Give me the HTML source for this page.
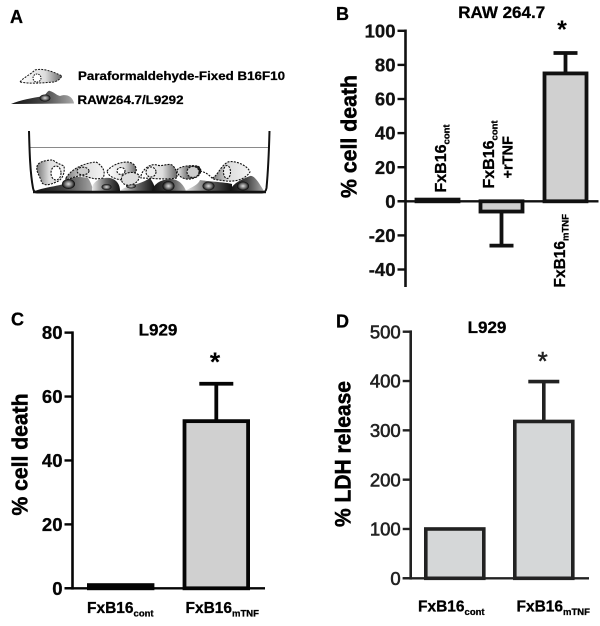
<!DOCTYPE html>
<html lang="en">
<head>
<meta charset="utf-8">
<title>Cell death panels</title>
<style>
html,body{margin:0;padding:0;background:#fff;}
svg{display:block;font-family:"Liberation Sans",Arial,sans-serif;}
</style>
</head>
<body>
<svg id="figure" xmlns="http://www.w3.org/2000/svg" width="600" height="626" viewBox="0 0 600 626">
  <defs>
    <linearGradient id="lightCell" x1="0" x2="1" y1="0" y2="0"><stop offset="0" stop-color="#777"/><stop offset=".45" stop-color="#ddd"/><stop offset="1" stop-color="#f4f4f4"/></linearGradient>
    <linearGradient id="lightCellB" x1="0" x2="1" y1="0" y2="0"><stop offset="0" stop-color="#fff"/><stop offset=".6" stop-color="#ddd"/><stop offset="1" stop-color="#666"/></linearGradient>
    <linearGradient id="darkCell" x1="0" x2="1" y1="0" y2="0"><stop offset="0" stop-color="#eee"/><stop offset=".5" stop-color="#666"/><stop offset="1" stop-color="#111"/></linearGradient>
    <linearGradient id="darkCellB" x1="0" x2="1" y1="0" y2="0"><stop offset="0" stop-color="#111"/><stop offset=".5" stop-color="#444"/><stop offset="1" stop-color="#aaa"/></linearGradient>
    <radialGradient id="nucleus"><stop offset="0" stop-color="#ddd"/><stop offset=".6" stop-color="#666"/><stop offset="1" stop-color="#000"/></radialGradient>
  </defs>

  <g>
    <text x="10" y="23" font-size="18" font-weight="700" stroke="#000" stroke-width=".3">A</text>
    <g>
      <path d="M20,82 C24,77 30,75 35,70 C42,68 52,71 62,76 C60,79 58,81 54,82 C42,83 30,84 20,82 Z" fill="url(#lightCellB)" stroke="#111" stroke-width="1" stroke-dasharray="2 1.2"/>
      <ellipse cx="37" cy="78" rx="4" ry="4" fill="#fff" stroke="#111" stroke-width="1" stroke-dasharray="1.5 1"/>
    </g>
    <text x="78" y="80" font-size="11.5" font-weight="700" textLength="207" lengthAdjust="spacingAndGlyphs" stroke="#000" stroke-width=".25">Paraformaldehyde-Fixed B16F10</text>
    <g>
      <path d="M11,104 C20,100 32,98 44,96 C47,93 48,90 50,91 C54,92 56,95 60,96 C65,94 72,95 74,103 L74,103.500 Z" fill="url(#darkCellB)"/>
      <ellipse cx="45" cy="98" rx="5.500" ry="3.500" fill="url(#nucleus)"/>
    </g>
    <text x="77.500" y="104" font-size="11.500" font-weight="700" textLength="106" lengthAdjust="spacingAndGlyphs" stroke="#000" stroke-width=".25">RAW264.7/L9292</text>

    <g>
      <line x1="30" y1="147.500" x2="268" y2="147.500" stroke="#8a8a8a" stroke-width="1"/>
      <g>
        <path d="M35,191 C45,187 60,186 66,183 C70,176 78,176 88,178 C92,184 92,188 94,191 Z" fill="url(#darkCellB)"/>
        <path d="M92,191 C91,182 100,177 110,178 C118,180 120,186 120,191 Z" fill="url(#darkCell)"/>
        <path d="M120,191 C124,186 140,185 150,178 C154,184 156,188 154,191 Z" fill="url(#darkCell)"/>
        <path d="M152,191 C154,183 162,179 172,179 C180,180 184,186 186,191 Z" fill="url(#darkCellB)"/>
        <path d="M185,191 C192,187 198,185 200,180 C212,182 225,182 232,184 L232,191 Z" fill="url(#darkCell)"/>
        <path d="M230,191 C232,184 240,180 250,176 C255,175 260,185 264,191 Z" fill="url(#darkCellB)"/>
        <ellipse cx="68.500" cy="184" rx="6.500" ry="5" fill="url(#nucleus)"/>
        <ellipse cx="106.500" cy="187" rx="5" ry="3" fill="url(#nucleus)"/>
        <ellipse cx="131" cy="186" rx="5" ry="2.500" fill="url(#nucleus)"/>
        <ellipse cx="168.500" cy="186" rx="6" ry="5" fill="url(#nucleus)"/>
        <ellipse cx="208.500" cy="186" rx="6" ry="4.500" fill="url(#nucleus)"/>
        <ellipse cx="243" cy="186" rx="6" ry="4.500" fill="url(#nucleus)"/>
      </g>
      <g stroke="#111" stroke-width="1.100" stroke-dasharray="2 1.200">
        <path d="M37,167 C37,162 46,160 53,160 C56,163 60,164 64,166 C65,172 63,180 56,182 C50,185 42,187 41,180 C39,175 36,171 37,167 Z" fill="url(#lightCell)"/>
        <ellipse cx="56" cy="173" rx="5" ry="7" fill="#fff"/>
        <path d="M66,178 C72,168 85,163 96,162 C103,166 106,172 103,178 C95,180 92,178 84,176 C78,175 72,178 66,180 Z" fill="url(#lightCell)"/>
        <ellipse cx="83" cy="171" rx="6" ry="3.800" fill="#ccc"/>
        <path d="M107,171 C112,165 120,162 128,162 C135,163 137,168 136,172 C131,176 128,178 122,180 C114,179 108,176 107,171 Z" fill="url(#lightCellB)"/>
        <ellipse cx="121" cy="171" rx="4" ry="3.500" fill="#fff"/>
        <path d="M122,176 C127,172 134,171 139,175 C140,180 136,184 130,185 C124,186 120,182 122,176 Z" fill="#ddd"/>
        <path d="M141,176 C142,170 150,163 157,165 C162,167 168,163 172,165 C177,169 177,174 177,178 C165,180 150,178 141,178 Z" fill="url(#lightCellB)"/>
        <ellipse cx="151" cy="172" rx="5" ry="5" fill="#eee"/>
        <path d="M177,170 C180,166 190,165 198,166 C204,170 200,178 190,179 C184,180 177,176 177,170 Z" fill="url(#darkCell)"/>
        <ellipse cx="193" cy="172" rx="6" ry="5.500" fill="#ccc"/>
        <path d="M200,171 C205,172 208,174 212,178" fill="none"/>
        <path d="M212,178 C218,176 220,166 228,162 C236,160 248,166 250,172 C246,178 238,182 226,181 C220,180 214,180 212,178 Z" fill="url(#lightCell)"/>
        <ellipse cx="227" cy="172" rx="3.500" ry="6.500" fill="#eee"/>
      </g>
      <path d="M29,131 C29.500,150 30,172 33,188 C33.500,191 35,192.500 37,192.500 L262,192.500 C265,192.500 266,191 266.500,188 C268,172 269,150 269.500,131" fill="none" stroke="#111" stroke-width="2"/>
      <line x1="33" y1="192" x2="266" y2="192" stroke="#111" stroke-width="2.600"/>
    </g>
  </g>

  <g id="panel-b"></g>
  <g id="panel-c"></g>
  <g id="panel-d"></g>
</svg>

<script>
// Panel B data
const bCategories = ['FxB16|cont', 'FxB16|cont', 'FxB16|mTNF'];
const bValues = [1, -6, 75];
const bErrorEnds = [1, -26, 87];
const bTicks = [100, 80, 60, 40, 20, 0, -20, -40];
// Panel C data
const cCategories = ['FxB16|cont', 'FxB16|mTNF'];
const cValues = [1, 52.3];
const cErrorEnds = [1, 64];
const cTicks = [80, 60, 40, 20, 0];
// Panel D data
const dCategories = ['FxB16|cont', 'FxB16|mTNF'];
const dValues = [100, 318];
const dErrorEnds = [100, 399];
const dTicks = [500, 400, 300, 200, 100, 0];

const NS = 'http://www.w3.org/2000/svg';

function shape(parent, tag, name, attrs, content) {
  const el = document.createElementNS(NS, tag);
  
  
  Object.keys(attrs).forEach(function (k) { el.setAttribute(k, attrs[k]); });
  if (content !== undefined) el.textContent = content;
  parent.appendChild(el);
  return el;
}

function categoryLabel(parent, name, category, attrs, mainSize, subSize, subDrop) {
  const parts = category.split('|');
  const t = shape(parent, 'text', name, attrs);
  t.setAttribute('stroke', '#000');
  t.setAttribute('stroke-width', '0.3');
  const main = document.createElementNS(NS, 'tspan');
  main.setAttribute('font-size', mainSize);
  main.textContent = parts[0];
  const sub = document.createElementNS(NS, 'tspan');
  sub.setAttribute('font-size', subSize);
  sub.setAttribute('dy', subDrop);
  sub.textContent = parts[1];
  t.appendChild(main);
  t.appendChild(sub);
  return t;
}

function drawChart(o) {
  const g = document.getElementById(o.id);
  const axisTop = o.y(o.ticks[0]);
  const axisBottom = o.axisBottom !== undefined ? o.axisBottom : o.y(0);

  o.values.forEach(function (v, i) {
    const cx = o.x(i);
    const top = o.y(Math.max(v, 0));
    const bottom = o.y(Math.min(v, 0));
    const hasError = o.errors[i] !== v;
    if (hasError) {
      shape(g, 'line', 'error-bar-stem-' + (i + 1), { x1: cx, x2: cx, y1: o.y(v), y2: o.y(o.errors[i]), stroke: o.ink, 'stroke-width': o.barStroke });
      shape(g, 'line', 'error-bar-cap-' + (i + 1), { x1: cx - o.capHalf, x2: cx + o.capHalf, y1: o.y(o.errors[i]), y2: o.y(o.errors[i]), stroke: o.ink, 'stroke-width': o.barStroke });
    }
    shape(g, 'rect', 'bar-' + (i + 1), { x: cx - o.barHalf, y: top, width: o.barHalf * 2, height: bottom - top, fill: o.fill, stroke: o.ink, 'stroke-width': o.barStroke });
  });

  shape(g, 'line', 'y-axis', { x1: o.axisX, x2: o.axisX, y1: axisTop - 1.3, y2: axisBottom + (o.axisBottom !== undefined ? 0 : 1.3), stroke: o.ink, 'stroke-width': 2.6 });
  shape(g, 'line', 'x-axis', { x1: o.axisX - 8, x2: o.axisEnd, y1: o.y(0), y2: o.y(0), stroke: o.ink, 'stroke-width': 2.4 });

  o.ticks.forEach(function (t) {
    const py = o.y(t);
    shape(g, 'line', 'y-tick-' + t, { x1: o.axisX - 8, x2: o.axisX, y1: py, y2: py, stroke: o.ink, 'stroke-width': 2.4 });
    shape(g, 'text', 'y-tick-label-' + t, { x: o.axisX - 10, y: py + 6.6, 'font-size': o.tickSize, 'font-weight': o.tickWeight, 'text-anchor': 'end', fill: o.ink, stroke: o.ink, 'stroke-width': o.tickStroke }, String(t));
  });
}

const bY = function (v) { return 201.3 - v * 1.705; };
const bX = function (i) { return 437.5 + i * 64; };
const cY = function (v) { return 588.3 - v * 3.196; };
const cX = function (i) { return 120.7 + i * 95.6; };
const dY = function (v) { return 578.3 - v * 0.4932; };
const dX = function (i) { return 454.8 + i * 89; };

drawChart({ id: 'panel-b', values: bValues, errors: bErrorEnds, ticks: bTicks, x: bX, y: bY, axisX: 405.5, axisEnd: 598.5, axisBottom: 287, barHalf: 21, capHalf: 12, barStroke: 3.8, fill: '#d0d0d0', ink: '#111', tickSize: 18.5, tickWeight: 700, tickStroke: 0.3 });
drawChart({ id: 'panel-c', values: cValues, errors: cErrorEnds, ticks: cTicks, x: cX, y: cY, axisX: 72.5, axisEnd: 265, barHalf: 31.8, capHalf: 17, barStroke: 3.8, fill: '#d0d0d0', ink: '#050505', tickSize: 18.5, tickWeight: 700, tickStroke: 0.3 });
drawChart({ id: 'panel-d', values: dValues, errors: dErrorEnds, ticks: dTicks, x: dX, y: dY, axisX: 410.7, axisEnd: 589, barHalf: 29, capHalf: 15.5, barStroke: 3.6, fill: '#d5d7d8', ink: '#222', tickSize: 18.5, tickWeight: 400, tickStroke: 0.6 });

const panelB = document.getElementById('panel-b');
const panelC = document.getElementById('panel-c');
const panelD = document.getElementById('panel-d');

// Panel B text
shape(panelB, 'text', 'panel-b-label', { x: 336, y: 20, 'font-size': 18, 'font-weight': 700, stroke: '#000', 'stroke-width': 0.3 }, 'B');
shape(panelB, 'text', 'chart-title', { x: 501.7, y: 18, 'font-size': 17, 'font-weight': 700, 'text-anchor': 'middle', stroke: '#000', 'stroke-width': 0.3 }, 'RAW 264.7');
shape(panelB, 'text', 'y-axis-title', { transform: 'translate(356.5,198) rotate(-90)', 'font-size': 22, 'font-weight': 700, textLength: 123, lengthAdjust: 'spacingAndGlyphs', stroke: '#000', 'stroke-width': 0.5 }, '% cell death');
shape(panelB, 'text', 'significance-star', { x: 562, y: 38, 'font-size': 25, 'font-weight': 700, 'text-anchor': 'middle' }, '*');
categoryLabel(panelB, 'category-label-1', bCategories[0], { transform: 'translate(446,192.500) rotate(-90)', 'font-weight': 700 }, 16, 9.5, 3.5);
categoryLabel(panelB, 'category-label-2', bCategories[1], { transform: 'translate(494,188.500) rotate(-90)', 'font-weight': 700 }, 16, 9.5, 3.5);
shape(panelB, 'text', 'category-label-2-suffix', { transform: 'translate(512.500,178.500) rotate(-90)', 'font-size': 14.5, 'font-weight': 700, stroke: '#000', 'stroke-width': 0.3 }, '+rTNF');
categoryLabel(panelB, 'category-label-3', bCategories[2], { transform: 'translate(565,287.500) rotate(-90)', 'font-weight': 700 }, 15.5, 9.5, 3.5);

// Panel C text
shape(panelC, 'text', 'panel-c-label', { x: 11, y: 325.700, 'font-size': 18, 'font-weight': 700, stroke: '#000', 'stroke-width': 0.3 }, 'C');
shape(panelC, 'text', 'chart-title', { x: 158, y: 335.500, 'font-size': 17, 'font-weight': 700, 'text-anchor': 'middle', stroke: '#000', 'stroke-width': 0.3 }, 'L929');
shape(panelC, 'text', 'y-axis-title', { transform: 'translate(27.500,515.500) rotate(-90)', 'font-size': 22, 'font-weight': 700, textLength: 122, lengthAdjust: 'spacingAndGlyphs', stroke: '#000', 'stroke-width': 0.5 }, '% cell death');
shape(panelC, 'text', 'significance-star', { x: 215, y: 371, 'font-size': 27, 'font-weight': 700, 'text-anchor': 'middle' }, '*');
categoryLabel(panelC, 'category-label-1', cCategories[0], { x: 87, y: 613, 'font-weight': 700 }, 15.5, 9.5, 3.5);
categoryLabel(panelC, 'category-label-2', cCategories[1], { x: 185.500, y: 613, 'font-weight': 700 }, 15.5, 9.5, 3.5);

// Panel D text
shape(panelD, 'text', 'panel-d-label', { x: 336, y: 327.500, 'font-size': 18, 'font-weight': 700, stroke: '#000', 'stroke-width': 0.3 }, 'D');
shape(panelD, 'text', 'chart-title', { x: 487, y: 333, 'font-size': 17, 'font-weight': 700, 'text-anchor': 'middle', stroke: '#000', 'stroke-width': 0.3 }, 'L929');
shape(panelD, 'text', 'y-axis-title', { transform: 'translate(350.500,527) rotate(-90)', 'font-size': 22, 'font-weight': 700, textLength: 146, lengthAdjust: 'spacingAndGlyphs', stroke: '#000', 'stroke-width': 0.5 }, '% LDH release');
shape(panelD, 'text', 'significance-star', { x: 542.700, y: 370, 'font-size': 26, 'font-weight': 400, 'text-anchor': 'middle', fill: '#222', stroke: '#222', 'stroke-width': 0.5 }, '*');
categoryLabel(panelD, 'category-label-1', dCategories[0], { x: 418, y: 611.500, 'font-weight': 700 }, 15.5, 9.5, 3.5);
categoryLabel(panelD, 'category-label-2', dCategories[1], { x: 516.500, y: 611.500, 'font-weight': 700 }, 15.5, 9.5, 3.5);
</script>
</body>
</html>
